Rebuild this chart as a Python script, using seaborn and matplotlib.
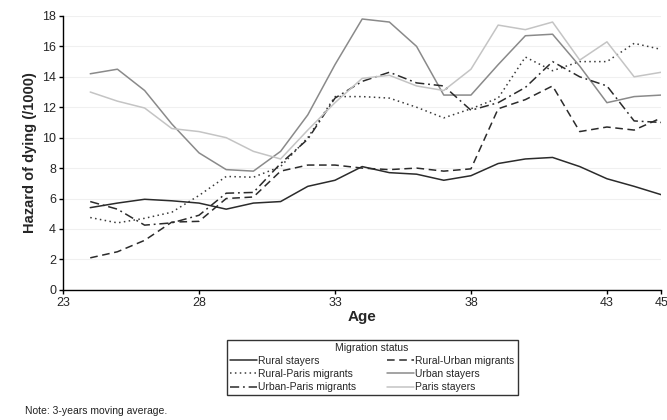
import matplotlib
matplotlib.use("Agg")
import matplotlib.pyplot as plt
import numpy as np
import pandas as pd
import seaborn as sns

# ages shown on the chart (3-year moving average)
ages = list(range(24, 46))

rural_stayers = [5.4, 5.7, 5.95, 5.85, 5.7, 5.3, 5.7, 5.8, 6.8, 7.2, 8.1,
                 7.7, 7.6, 7.2, 7.5, 8.3, 8.6, 8.7, 8.1, 7.3, 6.8, 6.25]
rural_urban = [2.1, 2.5, 3.25, 4.45, 4.5, 6.0, 6.1, 7.8, 8.2, 8.2, 8.0,
               7.9, 8.0, 7.8, 7.95, 11.9, 12.5, 13.4, 10.4, 10.7, 10.5, 11.3]
rural_paris = [4.75, 4.4, 4.7, 5.1, 6.2, 7.45, 7.4, 8.1, 10.0, 12.7, 12.7,
               12.6, 12.0, 11.3, 11.9, 12.6, 15.3, 14.4, 15.0, 15.0, 16.2, 15.8]
urban_stayers = [14.2, 14.5, 13.1, 10.9, 9.0, 7.9, 7.8, 9.1, 11.5, 14.8, 17.8,
                 17.6, 16.0, 12.8, 12.8, 14.8, 16.7, 16.8, 14.7, 12.3, 12.7, 12.8]
urban_paris = [5.8, 5.3, 4.25, 4.4, 4.9, 6.35, 6.4, 8.3, 9.9, 12.6, 13.7,
               14.3, 13.6, 13.4, 11.8, 12.3, 13.3, 15.0, 14.0, 13.4, 11.1, 11.0]
paris_stayers = [13.0, 12.4, 11.95, 10.6, 10.4, 10.0, 9.1, 8.6, 10.5, 12.3, 13.9,
                 14.1, 13.4, 13.1, 14.5, 17.4, 17.1, 17.6, 15.1, 16.3, 14.0, 14.3]

groups = ["Rural stayers", "Rural-Urban migrants", "Rural-Paris migrants",
          "Urban stayers", "Urban-Paris migrants", "Paris stayers"]
series = [rural_stayers, rural_urban, rural_paris,
          urban_stayers, urban_paris, paris_stayers]

x_ticks = [23, 28, 33, 38, 43, 45]

df = pd.concat([pd.DataFrame({"age": ages, "hazard": vals, "status": name})
                for name, vals in zip(groups, series)], ignore_index=True)

palette = {"Rural stayers": "#2b2b2b", "Rural-Urban migrants": "#2b2b2b",
           "Rural-Paris migrants": "#3a3a3a", "Urban stayers": "#8a8a8a",
           "Urban-Paris migrants": "#2b2b2b", "Paris stayers": "#c4c4c4"}
dashes = {"Rural stayers": "", "Rural-Urban migrants": (5, 3),
          "Rural-Paris migrants": (1, 2.2), "Urban stayers": "",
          "Urban-Paris migrants": (6, 2.5, 1.2, 2.5), "Paris stayers": ""}

sns.set_style("white")
plt.rcParams['font.family'] = ['Liberation Sans', 'DejaVu Sans']

fig = plt.figure(figsize=(6.67, 4.2), dpi=100)
ax = fig.add_axes([0.0945, 0.31, 0.897, 0.652])

sns.lineplot(data=df, x="age", y="hazard", hue="status", style="status",
             hue_order=groups, style_order=groups, palette=palette,
             dashes=dashes, linewidth=1.1, ax=ax, legend=False)

ax.set_xlim(23, 45)
ax.set_ylim(0, 18)
ax.set_xticks(x_ticks)
ax.set_yticks(range(0, 19, 2))
ax.yaxis.grid(True, color="#f0f0f0", linewidth=0.8)
ax.set_axisbelow(True)
for side in ["top", "right"]:
    ax.spines[side].set_visible(False)
for side in ["left", "bottom"]:
    ax.spines[side].set_color("black")
    ax.spines[side].set_linewidth(1.0)
ax.tick_params(axis="both", direction="out", length=3, width=1,
               color="black", labelsize=9, pad=2,
               bottom=True, left=True)
ax.set_xlabel("Age", fontsize=11, fontweight="bold", labelpad=1)
ax.set_ylabel("Hazard of dying (/1000)", fontsize=10.5, fontweight="bold",
              labelpad=4)

# legend filled column-wise, two columns
order = ["Rural stayers", "Rural-Paris migrants", "Urban-Paris migrants",
         "Rural-Urban migrants", "Urban stayers", "Paris stayers"]
handles = []
for name in order:
    ls = "-" if dashes[name] == "" else (0, dashes[name])
    handles.append(plt.Line2D([], [], color=palette[name], linestyle=ls,
                              linewidth=1.1, label=name))
leg = fig.legend(handles=handles, loc="center", ncol=2,
                 bbox_to_anchor=(0.558, 0.125), title="Migration status",
                 fontsize=7.5, title_fontsize=7.5, frameon=True,
                 fancybox=False, handlelength=2.6, handletextpad=0.1,
                 columnspacing=3.0, labelspacing=0.3, borderpad=0.3)
leg.get_frame().set_edgecolor("black")
leg.get_frame().set_linewidth(1.0)

fig.text(0.037, 0.014, "Note: 3-years moving average.", fontsize=7.5,
         color="#222222")

fig.savefig("out.png", dpi=100)
